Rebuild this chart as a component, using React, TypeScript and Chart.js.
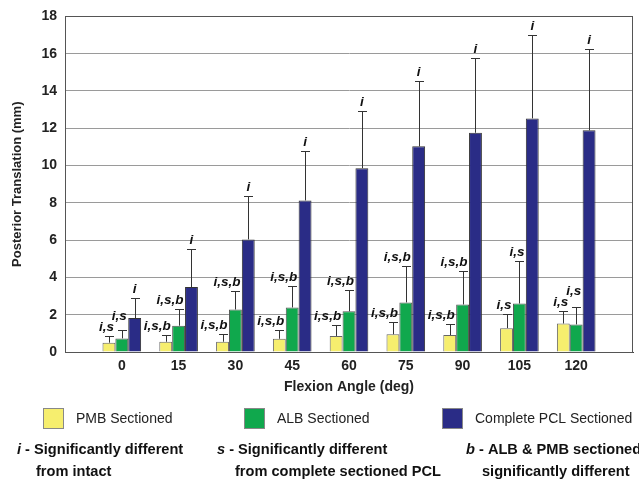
import React, { useEffect, useRef } from "react";
import { Chart, registerables } from "chart.js";

Chart.register(...registerables);

const angles = ["0", "15", "30", "45", "60", "75", "90", "105", "120"];
const pmbMean = [0.5, 0.55, 0.55, 0.71, 0.86, 0.95, 0.91, 1.28, 1.53];
const pmbSd = [0.36, 0.35, 0.41, 0.47, 0.58, 0.64, 0.6, 0.77, 0.66];
const albMean = [0.73, 1.41, 2.28, 2.39, 2.18, 2.66, 2.55, 2.6, 1.48];
const albSd = [0.45, 0.89, 1.0, 1.16, 1.12, 1.97, 1.78, 2.3, 0.96];
const pclMean = [1.82, 3.48, 6.04, 8.13, 9.86, 11.03, 11.76, 12.53, 11.89];
const pclSd = [1.1, 2.06, 2.32, 2.67, 3.08, 3.53, 4.0, 4.46, 4.35];
const pmbSig = ["i,s", "i,s,b", "i,s,b", "i,s,b", "i,s,b", "i,s,b", "i,s,b", "i,s", "i,s"];
const albSig = ["i,s", "i,s,b", "i,s,b", "i,s,b", "i,s,b", "i,s,b", "i,s,b", "i,s", "i,s"];
const pclSig = ["i", "i", "i", "i", "i", "i", "i", "i", "i"];
const yTicks = [0, 2, 4, 6, 8, 10, 12, 14, 16, 18];

const seriesNames = ["PMB Sectioned", "ALB Sectioned", "Complete PCL Sectioned"];
const colors = ["#f6ee6e", "#10a84d", "#2a2c86"];

const FONT = "'Liberation Sans', Arial, sans-serif";
const pad = (arr: any[]) => [null, ...arr, null];

export default function App() {
  const ref = useRef<HTMLCanvasElement>(null);

  useEffect(() => {
    const canvas = ref.current;
    if (!canvas) return;
    const sds = [pmbSd, albSd, pclSd];
    const sigs = [pmbSig, albSig, pclSig];

    const errPlugin = {
      id: "errbars",
      afterDatasetsDraw(chart: any) {
        const ctx = chart.ctx;
        const ys = chart.scales.y;
        const boxes: any[] = [];
        ctx.save();
        chart.data.datasets.forEach((ds: any, di: number) => {
          const meta = chart.getDatasetMeta(di);
          meta.data.forEach((el: any, i: number) => {
            const v = ds.data[i];
            if (v == null) return;
            const sd = sds[di][i - 1];
            const capY = Math.round(ys.getPixelForValue(v + sd)) + 0.5;
            const x = Math.round(el.x) + 0.5;
            ctx.strokeStyle = "#333";
            ctx.lineWidth = 1;
            ctx.beginPath();
            ctx.moveTo(x, el.y);
            ctx.lineTo(x, capY);
            ctx.moveTo(x - 4.5, capY);
            ctx.lineTo(x + 4.5, capY);
            ctx.stroke();
          });
        });
        ctx.font = `italic bold 13.5px ${FONT}`;
        ctx.fillStyle = "#111";
        ctx.textBaseline = "alphabetic";
        chart.data.datasets.forEach((ds: any, di: number) => {
          const meta = chart.getDatasetMeta(di);
          meta.data.forEach((el: any, i: number) => {
            const v = ds.data[i];
            if (v == null) return;
            const sd = sds[di][i - 1];
            const txt = sigs[di][i - 1];
            const capY = ys.getPixelForValue(v + sd);
            const w = ctx.measureText(txt).width;
            let x0: number, x1: number;
            if (txt.length > 1) {
              x1 = el.x + 5;
              x0 = x1 - w;
            } else {
              x0 = el.x - w / 2;
              x1 = el.x + w / 2;
            }
            let base = capY - 5;
            for (const b of boxes) {
              const top = base - 9;
              const bot = base + 2;
              if (x0 < b.x1 && x1 > b.x0 && top < b.bot && bot > b.top) {
                base = b.top - 2;
              }
            }
            boxes.push({ x0, x1, top: base - 9, bot: base + 2 });
            ctx.textAlign = "left";
            ctx.fillText(txt, x0, base);
          });
        });
        ctx.restore();
      },
      afterDraw(chart: any) {
        const ctx = chart.ctx;
        const a = chart.chartArea;
        ctx.save();
        ctx.strokeStyle = "#555";
        ctx.lineWidth = 1;
        ctx.strokeRect(Math.round(a.left) + 0.5, Math.round(a.top) + 0.5, Math.round(a.right - a.left) - 1, Math.round(a.bottom - a.top));
        const lx = [43, 244, 442];
        seriesNames.forEach((name, k) => {
          ctx.fillStyle = colors[k];
          ctx.fillRect(lx[k], 408, 21, 21);
          ctx.strokeStyle = "#888";
          ctx.strokeRect(lx[k] + 0.5, 408.5, 20, 20);
          ctx.fillStyle = "#222";
          ctx.font = `14px ${FONT}`;
          ctx.textAlign = "left";
          ctx.textBaseline = "middle";
          ctx.fillText(name, lx[k] + 33, 419);
        });
        const notes = [
          { key: "i", rest: " - Significantly different", line2: "from intact", x: 17, x2: 36 },
          { key: "s", rest: " - Significantly different", line2: "from complete sectioned PCL", x: 217, x2: 235 },
          { key: "b", rest: " - ALB & PMB sectioned", line2: "significantly different", x: 466, x2: 482 },
        ];
        ctx.fillStyle = "#111";
        ctx.textBaseline = "middle";
        notes.forEach((n) => {
          ctx.font = `italic bold 14.6px ${FONT}`;
          ctx.fillText(n.key, n.x, 450);
          const kw = ctx.measureText(n.key).width;
          ctx.font = `bold 14.6px ${FONT}`;
          ctx.fillText(n.rest, n.x + kw, 450);
          ctx.fillText(n.line2, n.x2, 472);
        });
        ctx.restore();
      },
    };

    const chart = new Chart(canvas, {
      type: "bar",
      data: {
        labels: ["", ...angles, ""],
        datasets: [
          { label: seriesNames[0], data: pad(pmbMean), backgroundColor: colors[0], borderColor: "#666", borderWidth: 1 },
          { label: seriesNames[1], data: pad(albMean), backgroundColor: colors[1], borderColor: "#555", borderWidth: 1 },
          { label: seriesNames[2], data: pad(pclMean), backgroundColor: colors[2], borderColor: "#333", borderWidth: 1 },
        ],
      },
      options: {
        responsive: false,
        maintainAspectRatio: false,
        animation: false,
        layout: { padding: { left: 0, right: 2, top: 15, bottom: 82 } },
        datasets: { bar: { categoryPercentage: 0.68, barPercentage: 1.0 } },
        plugins: { legend: { display: false }, tooltip: { enabled: false }, title: { display: false } },
        scales: {
          x: {
            offset: false,
            grid: { display: false, drawTicks: false },
            border: { display: true, color: "#444" },
            ticks: { autoSkip: false, maxRotation: 0, padding: 6, color: "#222", font: { family: FONT, size: 14, weight: "bold" } },
            title: { display: true, text: "Flexion Angle (deg)", color: "#222", padding: { top: 0, bottom: 4 }, font: { family: FONT, size: 14, weight: "bold" } },
            afterFit: (s: any) => { s.height = 48; },
          },
          y: {
            min: 0,
            max: 18,
            afterBuildTicks: (s: any) => { s.ticks = yTicks.map((v) => ({ value: v })); },
            grid: { color: "#9a9a9a", drawTicks: false, lineWidth: 1 },
            border: { display: true, color: "#444" },
            ticks: { padding: 8, color: "#222", font: { family: FONT, size: 14, weight: "bold" } },
            title: { display: true, text: "Posterior Translation (mm)", color: "#222", padding: { top: 10, bottom: 0 }, font: { family: FONT, size: 13, weight: "bold" } },
            afterFit: (s: any) => { s.width = 65; },
          },
        },
      },
      plugins: [errPlugin],
    } as any);
    return () => chart.destroy();
  }, []);

  return (
    <div style={{ position: "absolute", left: 0, top: 0, width: 639, height: 482, background: "#fff" }}>
      <canvas ref={ref} width={639} height={482} style={{ display: "block" }} />
    </div>
  );
}
